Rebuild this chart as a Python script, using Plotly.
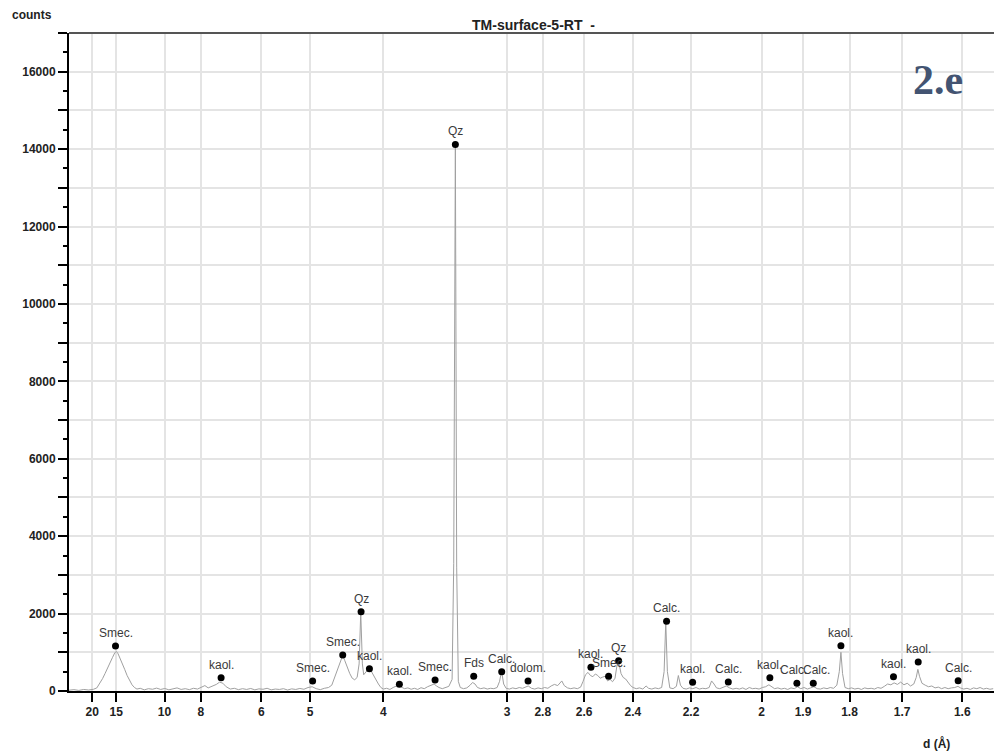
import math
import plotly.graph_objects as go

# ---------------- data (2-theta, Cu K-alpha) ----------------
two_theta = [
    3.0, 3.3, 3.6, 3.9, 4.2, 4.5, 4.7, 4.9, 5.05, 5.2,
    5.35, 5.5, 5.65, 5.8, 5.9, 6.0, 6.1, 6.25, 6.4, 6.55,
    6.7, 6.85, 7.0, 7.15, 7.35, 7.6, 7.85, 8.1, 8.35, 8.6,
    8.85, 9.1, 9.35, 9.6, 9.85, 10.1, 10.35, 10.6, 10.85, 11.1,
    11.3, 11.5, 11.75, 12.0, 12.2, 12.4, 12.6, 12.85, 13.1, 13.35,
    13.6, 13.85, 14.1, 14.35, 14.6, 14.85, 15.1, 15.35, 15.6, 15.85,
    16.1, 16.35, 16.6, 16.85, 17.1, 17.35, 17.6, 17.85, 18.1, 18.35,
    18.6, 18.85, 19.05, 19.25, 19.45, 19.6, 19.72, 19.85, 20.0, 20.15,
    20.3, 20.45, 20.6, 20.72, 20.82, 20.92, 21.0, 21.1, 21.25, 21.35,
    21.45, 21.6, 21.75, 21.9, 22.05, 22.2, 22.4, 22.6, 22.8, 23.0,
    23.15, 23.3, 23.5, 23.7, 23.9, 24.1, 24.3, 24.5, 24.7, 24.9,
    25.1, 25.3, 25.45, 25.6, 25.8, 26.0, 26.2, 26.4, 26.5, 26.6,
    26.68, 26.78, 26.9, 27.1, 27.3, 27.5, 27.65, 27.8, 27.95, 28.15,
    28.35, 28.55, 28.75, 28.95, 29.15, 29.3, 29.42, 29.55, 29.7, 29.9,
    30.1, 30.3, 30.5, 30.7, 30.9, 31.05, 31.25, 31.45, 31.65, 31.85,
    32.05, 32.25, 32.45, 32.65, 32.85, 33.0, 33.1, 33.25, 33.45, 33.65,
    33.85, 34.05, 34.25, 34.4, 34.55, 34.7, 34.85, 35.0, 35.15, 35.3,
    35.45, 35.6, 35.75, 35.9, 36.05, 36.2, 36.35, 36.5, 36.6, 36.72,
    36.85, 37.0, 37.15, 37.3, 37.45, 37.65, 37.85, 38.05, 38.25, 38.4,
    38.6, 38.8, 39.0, 39.2, 39.35, 39.45, 39.55, 39.7, 39.9, 40.1,
    40.22, 40.35, 40.5, 40.7, 40.9, 41.1, 41.3, 41.5, 41.7, 41.9,
    42.1, 42.25, 42.4, 42.55, 42.75, 42.95, 43.15, 43.35, 43.55, 43.75,
    43.95, 44.15, 44.35, 44.55, 44.75, 44.95, 45.15, 45.35, 45.55, 45.75,
    45.9, 46.1, 46.3, 46.5, 46.7, 46.9, 47.1, 47.3, 47.5, 47.7,
    47.9, 48.1, 48.3, 48.5, 48.7, 48.9, 49.1, 49.3, 49.5, 49.7,
    49.9, 50.05, 50.15, 50.25, 50.4, 50.6, 50.8, 51.0, 51.2, 51.4,
    51.6, 51.8, 52.0, 52.2, 52.4, 52.6, 52.8, 53.0, 53.2, 53.4,
    53.6, 53.8, 54.0, 54.2, 54.4, 54.6, 54.75, 54.85, 54.95, 55.1,
    55.3, 55.5, 55.7, 55.9, 56.1, 56.3, 56.5, 56.7, 56.9, 57.1,
    57.3, 57.45, 57.65, 57.85, 58.05, 58.25, 58.45, 58.65, 58.85, 59.05,
    59.25, 59.45,
]
counts = [
    20, 35, 15, 40, 25, 45, 80, 200, 320, 450,
    600, 720, 860, 990, 1020, 960, 870, 720, 560, 400,
    280, 160, 90, 50, 70, 30, 60, 45, 75, 40,
    65, 30, 55, 80, 40, 60, 35, 70, 50, 90,
    140, 80, 120, 170, 230, 200, 110, 50, 70, 35,
    60, 40, 65, 30, 55, 45, 70, 30, 50, 40,
    60, 25, 55, 40, 65, 45, 90, 110, 60, 35,
    70, 90, 150, 380, 650, 820, 920, 780, 600, 450,
    330, 290, 350, 700, 2030, 700, 420, 480, 560, 600,
    520, 400, 300, 180, 90, 50, 70, 40, 90, 120,
    160, 100, 60, 80, 45, 70, 40, 85, 60, 110,
    140, 180, 130, 90, 60, 80, 120, 300, 3300, 14100,
    3200, 250, 90, 60, 80, 150, 220, 180, 90, 60,
    80, 50, 70, 60, 90, 250, 520, 180, 70, 50,
    80, 60, 90, 70, 110, 130, 70, 50, 80, 60,
    90, 70, 130, 170, 140, 200, 260, 140, 80, 60,
    80, 60, 100, 250, 420, 480, 400, 370, 440, 400,
    330, 360, 380, 260, 300, 240, 330, 740, 700, 450,
    350, 310, 220, 140, 90, 60, 80, 50, 130, 70,
    50, 80, 60, 90, 500, 1780, 500, 80, 60, 120,
    400, 150, 70, 50, 80, 60, 90, 50, 70, 60,
    90, 260, 180, 80, 60, 90, 130, 80, 50, 70,
    50, 80, 40, 90, 60, 70, 50, 90, 110, 160,
    120, 60, 80, 50, 70, 40, 80, 60, 110, 60,
    90, 50, 80, 110, 60, 50, 80, 60, 90, 70,
    150, 500, 1000, 450, 90, 60, 80, 50, 70, 40,
    80, 60, 70, 50, 90, 70, 120, 180, 160, 210,
    170, 230, 160, 200, 130, 180, 350, 560, 380, 200,
    150, 110, 130, 80, 100, 60, 90, 60, 80, 90,
    120, 80, 50, 70, 40, 80, 60, 90, 50, 70,
    45, 60,
]

peak_two_theta = [5.84, 12.29, 17.88, 19.72, 20.84, 21.35, 23.18, 25.36, 26.60, 27.72,
                  29.43, 31.04, 34.88, 35.96, 36.57, 39.50, 41.09, 43.27, 45.81, 47.46,
                  48.46, 50.15, 53.36, 54.87, 57.31]
peak_counts = [1163, 344, 258, 930, 2050, 577, 172, 284, 14120, 379,
               499, 258, 612, 380, 783, 1801, 225, 233, 345, 198,
               198, 1171, 370, 750, 266]
peak_labels = ["Smec.", "kaol.", "Smec.", "Smec.", "Qz", "kaol.", "kaol.", "Smec.", "Qz", "Fds",
               "Calc.", "dolom.", "kaol.", "Smec.", "Qz", "Calc.", "kaol.", "Calc.", "kaol.", "Calc.",
               "Calc.", "kaol.", "kaol.", "kaol.", "Calc."]

d_ticks = [20, 15, 10, 8, 6, 5, 4, 3, 2.8, 2.6, 2.4, 2.2, 2, 1.9, 1.8, 1.7, 1.6]
y_ticks = list(range(0, 17001, 1000))
y_labels = [str(v) if v % 2000 == 0 else "" for v in y_ticks]

WAVELENGTH = 1.5406  # Cu K-alpha, Angstrom


def d_to_two_theta(d):
    return 2 * math.degrees(math.asin(WAVELENGTH / (2 * d)))


x_tickvals = [d_to_two_theta(d) for d in d_ticks]
x_ticktext = [("%g" % d) for d in d_ticks]

SANS = "Liberation Sans, Arial, sans-serif"

# ---------------- figure ----------------
fig = go.Figure()
fig.add_trace(go.Scatter(x=two_theta, y=counts, mode="lines",
                         line=dict(color="#a0a0a0", width=1), hoverinfo="skip",
                         showlegend=False))
fig.add_trace(go.Scatter(x=peak_two_theta, y=peak_counts, mode="markers",
                         marker=dict(color="black", size=7), showlegend=False))

# small horizontal nudges for the two overlapping Calc. labels near 1.9 Å
label_xshift = [0] * len(peak_labels)
label_xshift[19] = -3
label_xshift[20] = 3

for xv, yv, lab, xs in zip(peak_two_theta, peak_counts, peak_labels, label_xshift):
    fig.add_annotation(x=xv, y=yv, text=lab, showarrow=False, xref="x", yref="y",
                       yshift=13, xshift=xs, yanchor="middle", xanchor="center",
                       font=dict(family=SANS, size=12, color="#3a3a3a"))

L, R, T, B = 69, 0, 33, 64
W, H = 994, 755
pw, ph = W - L - R, H - T - B


def px(xp):
    return (xp - L) / pw


def py(yp):
    return (H - B - yp) / ph


fig.add_annotation(text="counts", x=px(32), y=py(15), xref="paper", yref="paper",
                   showarrow=False, xanchor="center", yanchor="middle",
                   font=dict(family=SANS, size=12, color="#222222", weight="bold"))
fig.add_annotation(text="TM-surface-5-RT  -", x=px(533), y=py(25), xref="paper", yref="paper",
                   showarrow=False, xanchor="center", yanchor="middle",
                   font=dict(family=SANS, size=14, color="#222222", weight="bold"))
fig.add_annotation(text="d (Å)", x=px(936), y=py(743), xref="paper", yref="paper",
                   showarrow=False, xanchor="center", yanchor="middle",
                   font=dict(family=SANS, size=12, color="#222222", weight="bold"))
fig.add_annotation(text="<b>2.e</b>", x=px(938), y=py(80), xref="paper", yref="paper",
                   showarrow=False, xanchor="center", yanchor="middle",
                   font=dict(family="Liberation Serif, Times New Roman, serif", size=42,
                             color="#435472"))

# top border
fig.add_shape(type="line", xref="paper", yref="paper", x0=0, x1=1, y0=1, y1=1,
              line=dict(color="#555555", width=2))

fig.update_xaxes(range=[3.0, 59.5], tickmode="array", tickvals=x_tickvals,
                 ticktext=x_ticktext, ticks="outside", ticklen=9, tickwidth=2,
                 tickcolor="black", showline=True, linecolor="black", linewidth=2,
                 showgrid=True, gridcolor="#e4e4e4", gridwidth=1.5, zeroline=False,
                 tickfont=dict(family=SANS, size=12, color="#222222", weight="bold"))
fig.update_yaxes(range=[0, 17000], tickmode="array", tickvals=y_ticks, ticktext=y_labels,
                 ticks="outside", ticklen=9, tickwidth=2, tickcolor="black",
                 showline=True, linecolor="black", linewidth=2,
                 showgrid=True, gridcolor="#e4e4e4", gridwidth=1.5, zeroline=False,
                 minor=dict(tickmode="linear", tick0=0, dtick=500, ticks="outside",
                            ticklen=4, tickwidth=2, tickcolor="black", showgrid=False),
                 tickfont=dict(family=SANS, size=12, color="#222222", weight="bold"))

fig.update_layout(width=W, height=H, margin=dict(l=L, r=R, t=T, b=B),
                  plot_bgcolor="white", paper_bgcolor="white",
                  font=dict(family=SANS))

fig.write_html("out.html")
